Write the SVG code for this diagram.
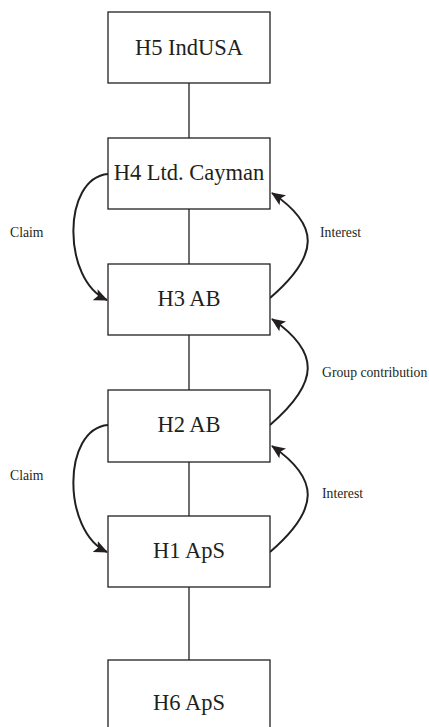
<svg xmlns="http://www.w3.org/2000/svg" width="429" height="727" viewBox="0 0 429 727">
<defs>
<style>
.box{fill:#fff;stroke:#231f20;stroke-width:1.3}
.lbl{font-family:"Liberation Serif","Times New Roman",serif;font-size:22.5px;fill:#231f20;text-anchor:middle}
.sm{font-family:"Liberation Serif","Times New Roman",serif;font-size:13.7px;fill:#231f20}
.link{stroke:#231f20;stroke-width:1.3;fill:none}
.arc{stroke:#231f20;stroke-width:2;fill:none;marker-end:url(#ah)}
</style>
<marker id="ah" markerUnits="userSpaceOnUse" markerWidth="14" markerHeight="12" viewBox="0 0 14 12" refX="13" refY="6" orient="auto">
<path d="M0,0 L14,6 L0,12 L3,6 Z" fill="#231f20"/>
</marker>
</defs>
<rect width="429" height="727" fill="#fff"/>
<g id="connectors">
<line class="link" x1="189" y1="83" x2="189" y2="138"/>
<line class="link" x1="189" y1="209" x2="189" y2="264"/>
<line class="link" x1="189" y1="335" x2="189" y2="390"/>
<line class="link" x1="189" y1="462" x2="189" y2="516"/>
<line class="link" x1="189" y1="587" x2="189" y2="660"/>
<path class="arc" d="M108,174 C62,178 62,280 107,300"/>
<path class="arc" d="M270,298 C320,255 320,225 272,193"/>
<path class="arc" d="M270,425 C320,382 320,352 272,319"/>
<path class="arc" d="M270,552 C320,509 320,479 272,446"/>
<path class="arc" d="M108,425 C62,429 62,531 107,552"/>
<text class="sm" x="10" y="237">Claim</text>
<text class="sm" x="320" y="237">Interest</text>
<text class="sm" x="322" y="377">Group contribution</text>
<text class="sm" x="322" y="498">Interest</text>
<text class="sm" x="10" y="480">Claim</text>
</g>
<g id="H5"><rect class="box" x="108" y="12" width="162" height="71"/><text class="lbl" x="189" y="55">H5 IndUSA</text></g>
<g id="H4"><rect class="box" x="108" y="138" width="162" height="71"/><text class="lbl" x="189" y="180">H4 Ltd. Cayman</text></g>
<g id="H3"><rect class="box" x="108" y="264" width="162" height="71"/><text class="lbl" x="189" y="306">H3 AB</text></g>
<g id="H2"><rect class="box" x="108" y="390" width="162" height="72"/><text class="lbl" x="189" y="432">H2 AB</text></g>
<g id="H1"><rect class="box" x="108" y="516" width="162" height="71"/><text class="lbl" x="189" y="558">H1 ApS</text></g>
<g id="H6"><rect class="box" x="108" y="660" width="162" height="80"/><text class="lbl" x="189" y="710">H6 ApS</text></g>
</svg>
